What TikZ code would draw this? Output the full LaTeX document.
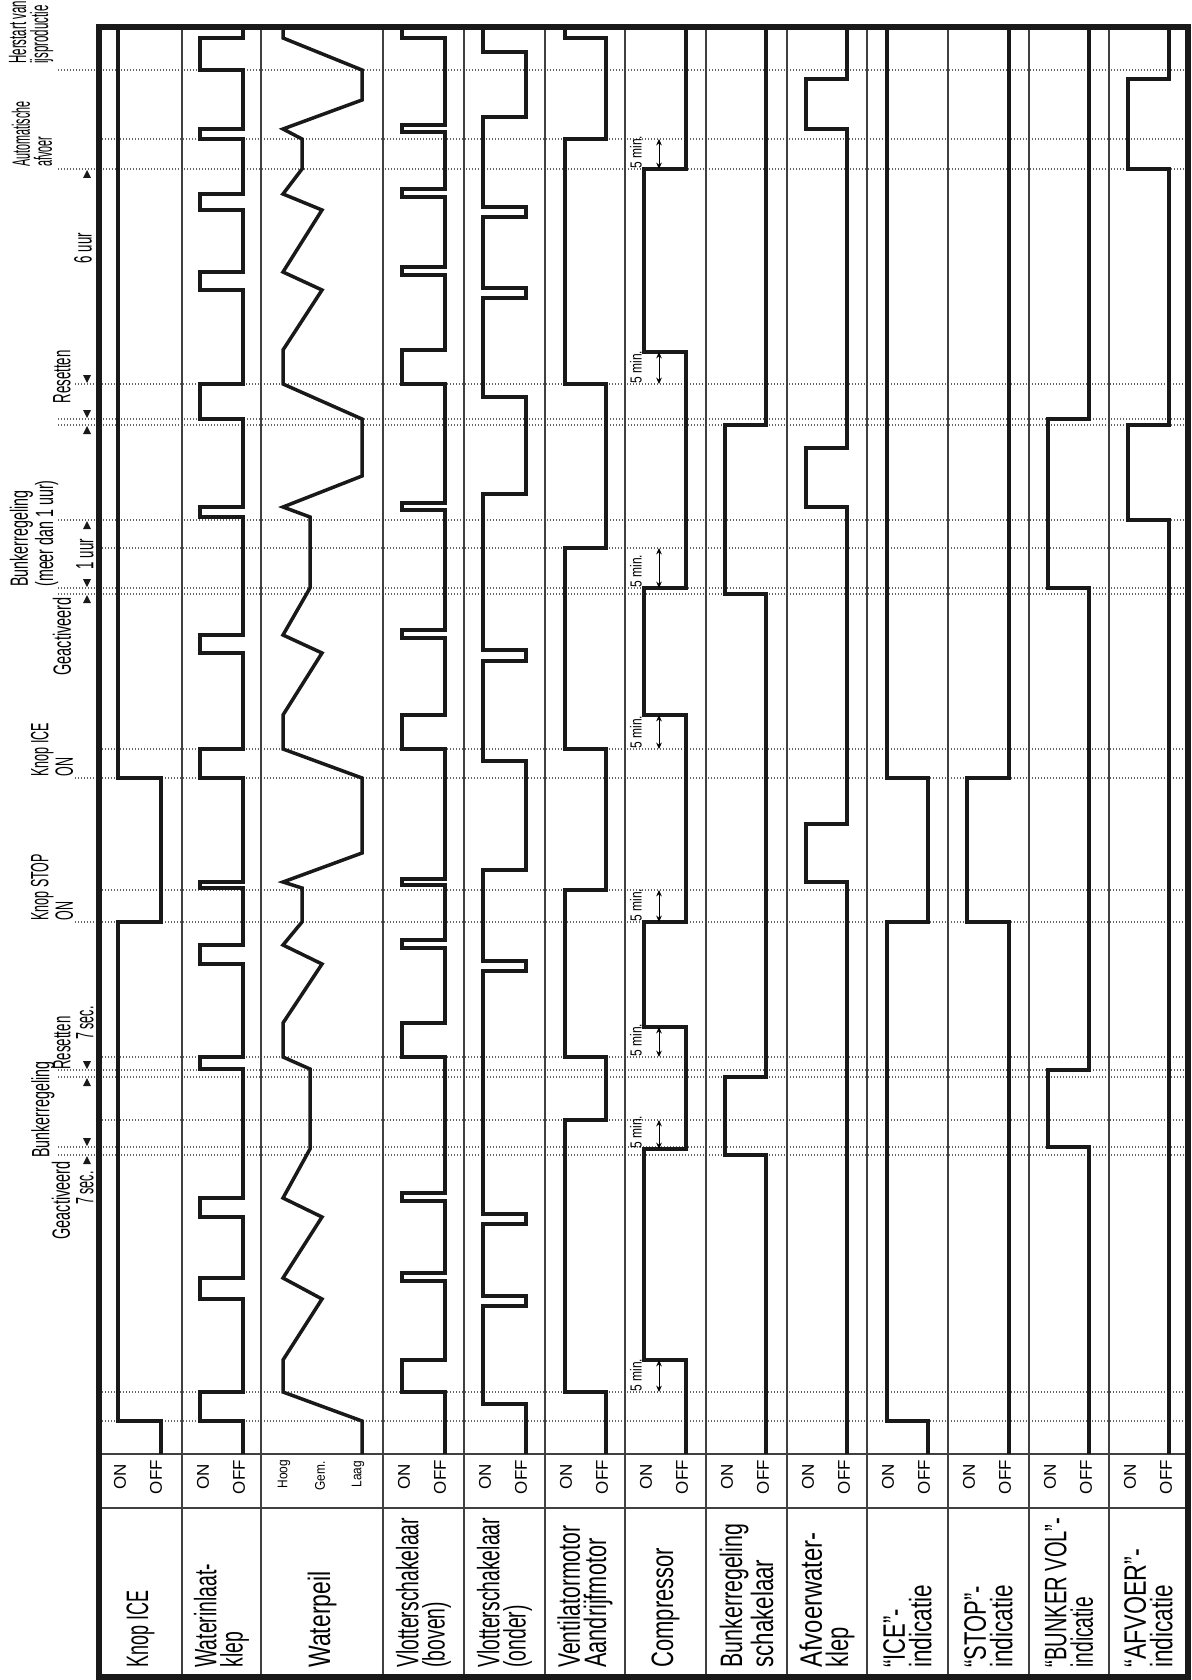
\documentclass[tikz,border=0pt]{standalone}
\usepackage{fontspec}
\setmainfont{Liberation Sans}
\usepackage{graphicx}
\usetikzlibrary{arrows.meta}
\newcommand\lb[2][0.65]{\scalebox{#1}[1]{#2}}
\newcommand\an[2][0.55]{\scalebox{#1}[1]{#2}}
\newcommand\tdn[2]{\fill[black!90] (#1-4,#2-9) -- (#1+4,#2-9) -- (#1,#2-1) -- cycle;}
\newcommand\tup[2]{\fill[black!90] (#1-4,#2+9) -- (#1+4,#2+9) -- (#1,#2+1) -- cycle;}
\begin{document}
\begin{tikzpicture}[x=0.5pt,y=-0.5pt,
  wave/.style={line width=1.75pt, line join=miter, draw=black!90},
  dotl/.style={line width=0.6pt, draw=black!60, dash pattern=on 0.6pt off 0.9pt},
  divl/.style={line width=0.6pt, draw=black!75},
  frm/.style={line width=2.8pt, draw=black!90},
  lab/.style={rotate=90, anchor=west, inner sep=0pt, align=left, font=\fontsize{15.5}{13.2}\selectfont},
  onoff/.style={rotate=90, inner sep=0pt, font=\fontsize{8.5}{8.5}\selectfont},
  lvl/.style={rotate=90, inner sep=0pt, font=\fontsize{7}{7}\selectfont},
  ann/.style={rotate=90, inner sep=0pt, align=left, font=\fontsize{12.5}{11}\selectfont},
  mins/.style={rotate=90, anchor=west, inner sep=0pt, font=\fontsize{8}{8}\selectfont},
  dimarr/.style={line width=0.5pt, {Stealth[length=3.2pt,width=2.8pt]}-{Stealth[length=3.2pt,width=2.8pt]}}
]
\useasboundingbox (0,0) rectangle (1192,1680);
\fill[white] (0,0) rectangle (1192,1680);

% dotted event lines
\foreach \y in {70,169,419,425,520,588,594,1070,1077,1147,1155} \draw[dotl] (58,\y) -- (1188,\y);
\foreach \y in {384,778,922} \draw[dotl] (75,\y) -- (1188,\y);
\foreach \y in {139,548,749,890,1057,1120,1392,1421} \draw[dotl] (99,\y) -- (1188,\y);

% grid
\foreach \x in {182,261,383,464,545,625,706,787,867,948,1029,1109} \draw[divl] (\x,27) -- (\x,1677);
\draw[divl] (99,1454) -- (1188,1454);
\draw[divl] (99,1508) -- (1188,1508);
\draw[frm] (99,27) rectangle (1188,1677);

% Knop ICE
\draw[wave] (161,1454)--(161,1421)--(118,1421)--(118,922)--(161,922)--(161,778)--(118,778)--(118,27);
% Waterinlaatklep
\draw[wave] (243,1454)--(243,1421)--(200,1421)--(200,1392)--(243,1392)--(243,1299)--(200,1299)--(200,1278)--(243,1278)--(243,1217)--(200,1217)--(200,1198)--(243,1198)--(243,1069)--(200,1069)--(200,1057)--(243,1057)--(243,964)--(200,964)--(200,945)--(243,945)--(243,888)--(200,888)--(200,882)--(243,882)--(243,778)--(200,778)--(200,749)--(243,749)--(243,653)--(200,653)--(200,635)--(243,635)--(243,517)--(200,517)--(200,507)--(243,507)--(243,419)--(200,419)--(200,384)--(243,384)--(243,290)--(200,290)--(200,272)--(243,272)--(243,210)--(200,210)--(200,194)--(243,194)--(243,139)--(200,139)--(200,129)--(243,129)--(243,70)--(200,70)--(200,38)--(243,38)--(243,27);
% Waterpeil
\draw[wave] (362,1454)--(362,1421)--(283,1392)--(283,1360)--(322,1299)--(283,1278)--(322,1217)--(283,1198)--(310,1149)--(310,1069)--(283,1057)--(283,1023)--(322,964)--(283,945)--(302,922)--(302,888)--(283,882)--(362,853)--(362,778)--(283,749)--(283,715)--(322,653)--(283,635)--(310,588)--(310,517)--(283,507)--(362,476)--(362,419)--(283,384)--(283,350)--(322,290)--(283,272)--(322,210)--(283,194)--(302,169)--(302,139)--(283,129)--(362,100)--(362,70)--(283,38)--(283,27);
% Vlotter boven
\draw[wave] (445,1454)--(445,1392)--(402,1392)--(402,1360)--(445,1360)--(445,1281)--(402,1281)--(402,1273)--(445,1273)--(445,1201)--(402,1201)--(402,1193)--(445,1193)--(445,1057)--(402,1057)--(402,1023)--(445,1023)--(445,948)--(402,948)--(402,940)--(445,940)--(445,885)--(402,885)--(402,879)--(445,879)--(445,749)--(402,749)--(402,715)--(445,715)--(445,638)--(402,638)--(402,630)--(445,630)--(445,510)--(402,510)--(402,503)--(445,503)--(445,384)--(402,384)--(402,350)--(445,350)--(445,275)--(402,275)--(402,267)--(445,267)--(445,197)--(402,197)--(402,189)--(445,189)--(445,132)--(402,132)--(402,125)--(445,125)--(445,38)--(402,38)--(402,27);
% Vlotter onder
\draw[wave] (526,1454)--(526,1404)--(483,1404)--(483,1306)--(526,1306)--(526,1296)--(483,1296)--(483,1224)--(526,1224)--(526,1214)--(483,1214)--(483,971)--(526,971)--(526,961)--(483,961)--(483,870)--(526,870)--(526,761)--(483,761)--(483,661)--(526,661)--(526,650)--(483,650)--(483,494)--(526,494)--(526,397)--(483,397)--(483,298)--(526,298)--(526,288)--(483,288)--(483,217)--(526,217)--(526,207)--(483,207)--(483,117)--(526,117)--(526,52)--(483,52)--(483,27);
% Ventilator
\draw[wave] (606,1454)--(606,1392)--(565,1392)--(565,1120)--(606,1120)--(606,1057)--(565,1057)--(565,890)--(606,890)--(606,749)--(565,749)--(565,548)--(606,548)--(606,384)--(565,384)--(565,139)--(606,139)--(606,38)--(565,38)--(565,27);
% Compressor
\draw[wave] (686,1454)--(686,1360)--(644,1360)--(644,1149)--(686,1149)--(686,1027)--(644,1027)--(644,922)--(686,922)--(686,715)--(644,715)--(644,588)--(686,588)--(686,352)--(644,352)--(644,169)--(686,169)--(686,27);
% Bunkerregeling schakelaar
\draw[wave] (766,1454)--(766,1155)--(725,1155)--(725,1077)--(766,1077)--(766,594)--(725,594)--(725,425)--(766,425)--(766,27);
% Afvoerwaterklep
\draw[wave] (847,1454)--(847,882)--(806,882)--(806,824)--(847,824)--(847,507)--(806,507)--(806,448)--(847,448)--(847,129)--(806,129)--(806,79)--(847,79)--(847,27);
% ICE indicatie
\draw[wave] (928,1454)--(928,1421)--(887,1421)--(887,922)--(928,922)--(928,778)--(887,778)--(887,27);
% STOP indicatie
\draw[wave] (1009,1454)--(1009,922)--(967,922)--(967,778)--(1009,778)--(1009,27);
% BUNKER VOL
\draw[wave] (1089,1454)--(1089,1147)--(1048,1147)--(1048,1070)--(1089,1070)--(1089,588)--(1048,588)--(1048,419)--(1089,419)--(1089,27);
% AFVOER
\draw[wave] (1169,1454)--(1169,520)--(1128,520)--(1128,425)--(1169,425)--(1169,169)--(1128,169)--(1128,79)--(1169,79)--(1169,27);

% 5 min. annotations
\foreach \yb/\yt [count=\i] in {1392/1360,1149/1120,1057/1027,922/890,749/715,588/548,384/352,169/139} {
  \draw[dimarr] (659,\yb) -- (659,\yt);
  \node[mins] (m\i) at (636,\yb) {\scalebox{0.75}[1]{5 min.}};
}

% ON/OFF row
\foreach \L [count=\i] in {99,182,383,464,545,625,706,787,867,948,1029,1109} {
  \node[onoff] (on\i) at (\L+21,1477) {ON};
  \node[onoff] (off\i) at (\L+57,1477) {OFF};
}
\node[lvl] (hoog) at (284,1474) {\scalebox{0.85}[1]{Hoog}};
\node[lvl] (gem) at (320,1476) {\scalebox{0.85}[1]{Gem.}};
\node[lvl] (laag) at (358,1474) {\scalebox{0.85}[1]{Laag}};

% row labels
\node[lab] (l1) at (140.5,1668) {\lb[0.58]{Knop ICE}};
\node[lab] (l2) at (221.5,1668) {\lb[0.625]{Waterinlaat-}\\\lb[0.625]{klep}};
\node[lab] (l3) at (322,1668) {\lb[0.74]{Waterpeil}};
\node[lab] (l4) at (423.5,1668) {\lb[0.625]{Vlotterschakelaar}\\\lb[0.625]{(boven)}};
\node[lab] (l5) at (504.5,1668) {\lb[0.625]{Vlotterschakelaar}\\\lb[0.625]{(onder)}};
\node[lab] (l6) at (585,1668) {\lb[0.68]{Ventilatormotor}\\\lb[0.7]{Aandrijfmotor}};
\node[lab] (l7) at (665.5,1668) {\lb[0.71]{Compressor}};
\node[lab] (l8) at (746.5,1668) {\lb[0.69]{Bunkerregeling}\\\lb[0.72]{schakelaar}};
\node[lab] (l9) at (827,1668) {\lb[0.77]{Afvoerwater-}\\\lb[0.71]{klep}};
\node[lab] (l10) at (907.5,1668) {\lb[0.71]{“ICE”-}\\\lb[0.73]{indicatie}};
\node[lab] (l11) at (988.5,1668) {\lb[0.71]{“STOP”-}\\\lb[0.73]{indicatie}};
\node[lab] (l12) at (1069,1668) {\lb[0.65]{“BUNKER VOL”-}\\\lb[0.62]{indicatie}};
\node[lab] (l13) at (1148.5,1668) {\lb[0.75]{“AFVOER”-}\\\lb[0.73]{indicatie}};

% event annotations (left margin)
\node[ann, anchor=west] (a1) at (31,64) {\an[0.46]{Herstart van}\\\an[0.46]{ijsproductie}};
\node[ann, anchor=west] (a2) at (32,167) {\an[0.43]{Automatische}\\\an[0.43]{afvoer}};
\node[ann] (a3) at (83,248) {\an[0.53]{6 uur}};
\node[ann] (a4) at (62,377) {\an[0.53]{Resetten}};
\node[ann, anchor=west] (a5) at (34,587) {\an[0.57]{Bunkerregeling}\\\an[0.57]{(meer dan 1 uur)}};
\node[ann] (a6) at (85,554) {\an[0.53]{1 uur}};
\node[ann, anchor=west] (a7) at (62,676) {\an[0.58]{Geactiveerd}};
\node[ann, anchor=west] (a8) at (52,777) {\an[0.5]{Knop ICE}\\\an[0.5]{ON}};
\node[ann, anchor=west] (a9) at (52,921) {\an[0.5]{Knop STOP}\\\an[0.5]{ON}};
\node[ann, anchor=west] (a10) at (43,1158) {\an[0.57]{Bunkerregeling}};
\node[ann, anchor=west] (a11) at (62,1070) {\an[0.53]{Resetten}};
\node[ann] (a12) at (85,1023) {\an[0.5]{7 sec.}};
\node[ann, anchor=west] (a13) at (61,1240) {\an[0.58]{Geactiveerd}};
\node[ann] (a14) at (85,1188) {\an[0.5]{7 sec.}};

% markers
\tup{87}{169}
\tdn{87}{384}
\tdn{87}{419}
\tup{87}{425}
\tup{87}{520}
\tdn{87}{588}
\tup{87}{594}
\tdn{87}{1070}
\tup{87}{1077}
\tdn{87}{1147}
\tup{87}{1155}
\end{tikzpicture}
\end{document}
